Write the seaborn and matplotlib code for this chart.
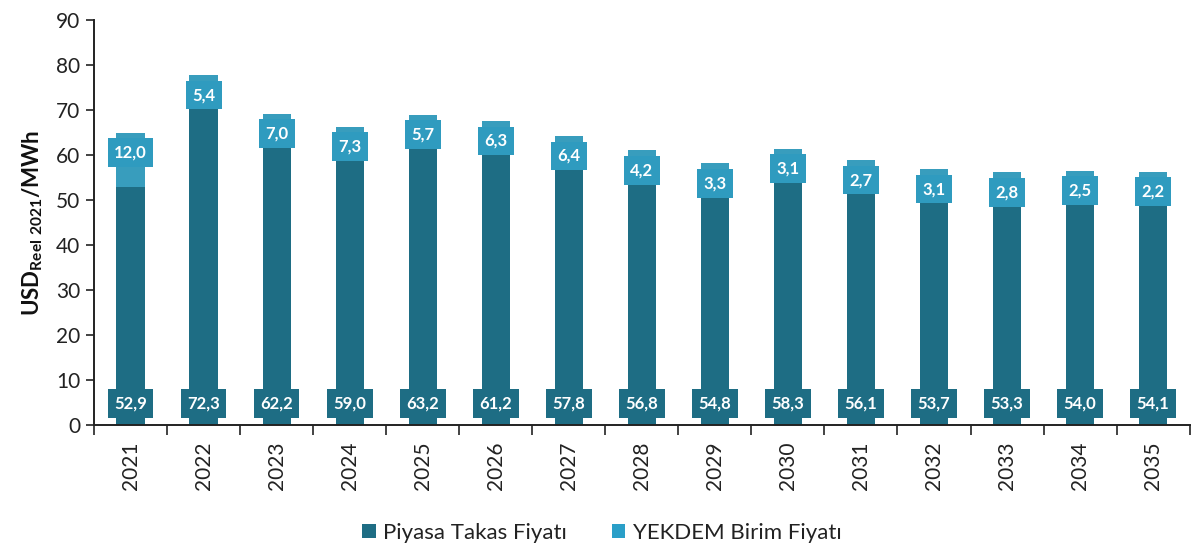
import matplotlib
matplotlib.use("Agg")
import matplotlib.pyplot as plt
import seaborn as sns
import pandas as pd
import numpy as np
from matplotlib.patches import Patch

# Yearly electricity prices (USD real 2021 / MWh)
years = ["2021", "2022", "2023", "2024", "2025", "2026", "2027", "2028",
         "2029", "2030", "2031", "2032", "2033", "2034", "2035"]
ptf = [52.9, 72.3, 62.2, 59.0, 63.2, 61.2, 57.8, 56.8,
       54.8, 58.3, 56.1, 53.7, 53.3, 54.0, 54.1]
yekdem = [12.0, 5.4, 7.0, 7.3, 5.7, 6.3, 6.4, 4.2,
          3.3, 3.1, 2.7, 3.1, 2.8, 2.5, 2.2]
series_names = ["Piyasa Takas Fiyatı", "YEKDEM Birim Fiyatı"]

dark = "#1e6d84"
light = "#389dbd"
light_box = "#2f9bbf"

df = pd.DataFrame({"year": years, "ptf": ptf, "yekdem": yekdem})
df["total"] = df["ptf"] + df["yekdem"]

sns.set_theme(style="white")
plt.rcParams["font.family"] = ["Lato", "DejaVu Sans"]
plt.rcParams["mathtext.default"] = "regular"

fig = plt.figure(figsize=(11.92, 5.56), dpi=100)
ax = fig.add_axes([0.079, 0.236, 0.919, 0.728])

bar_w = 0.39
# YEKDEM stacked on top of PTF: draw the full stack, then the PTF part over it
sns.barplot(data=df, x="year", y="total", color=light, width=bar_w,
            saturation=1, ax=ax, linewidth=0)
sns.barplot(data=df, x="year", y="ptf", color=dark, width=bar_w,
            saturation=1, ax=ax, linewidth=0)

def fmt(v):
    return f"{v:.1f}".replace(".", ",")

for i, (p, y) in enumerate(zip(ptf, yekdem)):
    ax.text(i, 4.7, fmt(p), ha="center", va="center", color="white",
            fontsize=12, fontweight="bold",
            bbox=dict(boxstyle="square,pad=0.38", fc=dark, ec="none"))
    ax.text(i, p + y - 4.4, fmt(y), ha="center", va="center", color="white",
            fontsize=12, fontweight="bold",
            bbox=dict(boxstyle="square,pad=0.38", fc=light_box, ec="none"))

ax.set_xlim(-0.5, len(years) - 0.5)
ax.set_ylim(0, 90)
ax.set_yticks(range(0, 91, 10))
ax.tick_params(axis="y", which="major", left=True, length=6, width=1.2,
               color="#222222", labelsize=15, pad=4, labelcolor="#222222")

# category labels on majors, tick marks between categories on minors
ax.set_xticks(range(len(years)))
ax.set_xticklabels(years, rotation=90)
ax.set_xticks(np.arange(-0.5, len(years), 1.0), minor=True)
ax.tick_params(axis="x", which="major", length=0, labelsize=15, pad=12,
               labelcolor="#222222")
ax.tick_params(axis="x", which="minor", bottom=True, length=7, width=1.2,
               color="#222222")

for s in ["top", "right"]:
    ax.spines[s].set_visible(False)
for s in ["left", "bottom"]:
    ax.spines[s].set_color("#222222")
    ax.spines[s].set_linewidth(1.4)

ax.set_xlabel("")
ax.set_ylabel(r"USD$_{\mathregular{Reel\ 2021}}$/MWh", fontsize=16,
              fontweight="bold", color="#111111", labelpad=8)

handles = [Patch(facecolor=dark, edgecolor="none"),
           Patch(facecolor="#2a9fc8", edgecolor="none")]
fig.legend(handles, series_names, loc="lower center",
           bbox_to_anchor=(0.505, -0.012), ncol=2, frameon=False,
           fontsize=16, handlelength=0.6, handleheight=0.6,
           handletextpad=0.35, columnspacing=2.0, labelcolor="#222222")

fig.savefig("out.png", dpi=100)
